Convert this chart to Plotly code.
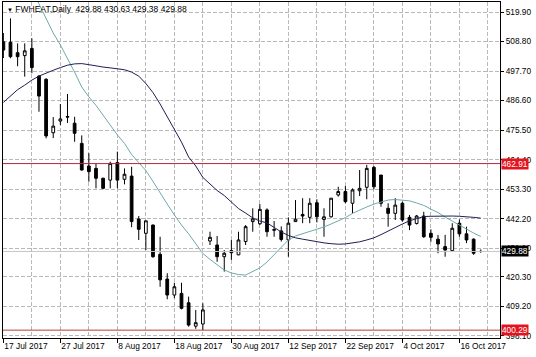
import plotly.graph_objects as go

# ---------------- data ----------------
dates = [
    "2017-07-17", "2017-07-18", "2017-07-19", "2017-07-20", "2017-07-21",
    "2017-07-24", "2017-07-25", "2017-07-26", "2017-07-27", "2017-07-28", "2017-07-31",
    "2017-08-01", "2017-08-02", "2017-08-03", "2017-08-04", "2017-08-07",
    "2017-08-08", "2017-08-09", "2017-08-10", "2017-08-11", "2017-08-14",
    "2017-08-15", "2017-08-16", "2017-08-17", "2017-08-18", "2017-08-21",
    "2017-08-22", "2017-08-23", "2017-08-24", "2017-08-25", "2017-08-28",
    "2017-08-29", "2017-08-30", "2017-08-31",
    "2017-09-01", "2017-09-05", "2017-09-06", "2017-09-07", "2017-09-08",
    "2017-09-11", "2017-09-12", "2017-09-13", "2017-09-14", "2017-09-15",
    "2017-09-18", "2017-09-19", "2017-09-20", "2017-09-21", "2017-09-22",
    "2017-09-25", "2017-09-26", "2017-09-27", "2017-09-28", "2017-09-29",
    "2017-10-02", "2017-10-03", "2017-10-04", "2017-10-05", "2017-10-06",
    "2017-10-09", "2017-10-10", "2017-10-11", "2017-10-12", "2017-10-13",
    "2017-10-16", "2017-10-17", "2017-10-18", "2017-10-19",
]

opens = [508.7, 508.5, 504.6, 503.5, 506.2, 495.8, 494.6, 474.5, 478.9, 480.6,
         478.1, 470.5, 462.0, 461.1, 457.4, 456.7, 463.3, 457.0, 458.2, 442.1,
         436.7, 439.8, 428.8, 419.5, 413.5, 414.1, 410.6, 401.8, 402.6, 433.8,
         432.3, 427.9, 430.2, 428.6, 433.6, 441.1, 440.3, 445.5, 438.1, 437.6,
         434.2, 441.1, 443.8, 442.7, 448.2, 441.9, 442.9, 451.1, 452.4, 448.0,
         452.7, 454.0, 461.5, 458.6, 446.1, 444.2, 448.0, 442.7, 440.4, 443.2,
         436.7, 434.5, 431.7, 430.2, 440.5, 436.5, 434.5, 429.88]
highs = [512.0, 517.5, 508.1, 508.1, 510.0, 496.2, 495.0, 480.4, 485.3, 489.1,
         480.5, 473.5, 466.8, 463.0, 457.6, 463.6, 467.4, 461.1, 461.7, 443.2,
         441.4, 440.0, 435.4, 421.7, 418.1, 418.1, 412.9, 407.9, 410.4, 437.3,
         435.7, 430.4, 434.2, 437.3, 439.8, 446.1, 447.7, 446.1, 441.3, 439.3,
         442.7, 449.2, 449.9, 449.9, 449.5, 446.1, 449.9, 454.2, 454.5, 453.6,
         460.5, 462.4, 462.0, 458.6, 448.0, 449.9, 448.6, 443.6, 443.6, 444.8,
         438.2, 436.1, 436.1, 440.5, 441.9, 439.2, 434.8, 430.63]
lows = [502.6, 502.5, 499.5, 495.6, 496.9, 482.4, 472.4, 472.5, 477.4, 478.2,
        471.1, 460.3, 456.1, 453.6, 453.3, 453.6, 453.6, 455.1, 439.0, 434.2,
        430.4, 427.5, 416.6, 411.9, 412.3, 408.1, 401.6, 400.8, 400.29, 432.3,
        426.0, 422.3, 426.7, 428.5, 432.3, 437.3, 439.8, 435.4, 435.4, 433.6,
        427.9, 441.0, 440.5, 440.5, 440.8, 435.4, 442.6, 450.5, 448.0, 444.2,
        450.7, 449.5, 453.2, 446.7, 439.2, 441.7, 441.1, 437.9, 440.0, 435.0,
        433.5, 429.2, 427.9, 430.0, 435.4, 433.0, 428.6, 429.38]
closes = [505.6, 503.1, 503.1, 505.3, 499.0, 488.3, 473.3, 477.0, 479.7, 480.4,
          474.3, 460.5, 459.9, 457.4, 453.6, 463.0, 456.7, 458.9, 441.1, 438.2,
          441.4, 427.9, 419.2, 413.5, 416.6, 408.5, 402.2, 403.1, 407.9, 435.2,
          427.9, 429.2, 429.4, 434.2, 439.2, 442.1, 445.7, 437.3, 437.9, 434.4,
          440.5, 442.0, 443.2, 448.0, 442.9, 442.9, 449.9, 452.4, 448.6, 453.0,
          453.6, 461.1, 454.2, 448.0, 444.2, 447.3, 441.7, 439.8, 443.2, 435.4,
          435.2, 432.7, 430.4, 438.6, 436.5, 434.2, 429.2, 429.88]

# fast moving average (teal)
ma_fast = [None, None, None, None, 528.4, 522.9, 517.5, 512.0, 507.5, 502.6,
           497.3, 491.7, 488.0, 484.8, 481.2, 477.2, 473.7, 470.5, 466.3, 463.3,
           460.3, 456.2, 452.2, 447.7, 443.6, 439.8, 436.5, 432.7, 429.1, 426.9,
           424.8, 422.9, 421.8, 421.2, 421.0, 422.2, 423.7, 425.9, 428.6, 431.6,
           434.2, 435.7, 436.5, 437.4, 438.3, 439.1, 440.2, 441.3, 442.6, 444.2,
           445.5, 446.6, 447.7, 448.5, 449.2, 449.4, 449.2, 448.9, 448.1, 447.2,
           445.8, 444.5, 442.8, 441.3, 439.7, 438.1, 436.8, 435.5]
# slow moving average (navy)
ma_slow = [485.9, 488.3, 490.7, 492.4, 494.3, 495.8, 497.0, 498.0, 499.0, 499.9,
           500.4, 500.5, 500.1, 499.6, 499.2, 498.9, 498.5, 498.2, 497.3, 495.8,
           493.0, 489.6, 485.3, 480.4, 475.5, 471.0, 465.4, 462.0, 457.7, 455.2,
           452.8, 450.9, 448.5, 446.0, 444.3, 442.5, 441.3, 440.6, 438.9, 437.2,
           435.9, 435.0, 434.5, 434.0, 433.6, 433.1, 432.8, 432.6, 432.7, 433.1,
           433.5, 434.2, 435.0, 436.2, 437.6, 438.7, 440.2, 441.4, 442.3, 443.0,
           443.1, 443.2, 443.2, 443.2, 443.1, 443.0, 442.7, 442.4]

x_labels = ["17 Jul 2017", "27 Jul 2017", "8 Aug 2017", "18 Aug 2017", "30 Aug 2017",
            "12 Sep 2017", "22 Sep 2017", "4 Oct 2017", "16 Oct 2017"]
x_label_dates = ["2017-07-17", "2017-07-27", "2017-08-08", "2017-08-18", "2017-08-30",
                 "2017-09-12", "2017-09-22", "2017-10-04", "2017-10-16"]
y_ticks = [519.90, 508.80, 497.70, 486.60, 475.50, 464.40, 453.30, 442.20,
           431.10, 420.30, 409.20, 398.10]

level_high = 462.91
level_low = 400.29
bid_price = 429.88
symbol = "FWHEAT,Daily"
last_ohlc = [429.88, 430.63, 429.38, 429.88]

# ---------------- figure ----------------
idx = list(range(len(dates)))
tick_idx = [dates.index(d) for d in x_label_dates]

FONT = "Liberation Sans, Arial, sans-serif"
GRID = "#b8b8b8"

fig = go.Figure()

fig.add_trace(go.Candlestick(
    x=idx, open=opens, high=highs, low=lows, close=closes,
    increasing=dict(line=dict(color="black", width=1), fillcolor="white"),
    decreasing=dict(line=dict(color="black", width=1), fillcolor="black"),
    whiskerwidth=0, showlegend=False, hoverinfo="skip",
))
fig.add_trace(go.Scatter(x=idx, y=ma_fast, mode="lines",
                         line=dict(color="#6fa9ab", width=1), showlegend=False))
fig.add_trace(go.Scatter(x=idx, y=ma_slow, mode="lines",
                         line=dict(color="#1e1e55", width=1), showlegend=False))

fig.add_hline(y=bid_price, line=dict(color="#c4c4c4", width=1))
fig.add_hline(y=level_high, line=dict(color="#b02a3a", width=1))
fig.add_hline(y=level_low, line=dict(color="#b04040", width=1))

fig.update_layout(
    width=536, height=357,
    margin=dict(l=3, r=36, t=2, b=19),
    paper_bgcolor="white", plot_bgcolor="white",
    font=dict(family=FONT, size=8.3, color="black"),
    boxgap=0.45,
    showlegend=False,
    xaxis=dict(
        range=[-0.05, 69.7],
        rangeslider=dict(visible=False),
        tickmode="array", tickvals=tick_idx, ticktext=x_labels,
        ticks="outside", ticklen=4, tickcolor="black",
        ticklabelposition="outside right",
        tickfont=dict(family=FONT, size=8.4),
        showgrid=True, gridcolor=GRID, griddash="4px,2px", gridwidth=1,
        minor=dict(tickmode="linear", tick0=0, dtick=4, showgrid=True,
                   gridcolor=GRID, griddash="4px,2px", gridwidth=1, ticks=""),
        showline=True, linecolor="black", linewidth=1, mirror=True,
        zeroline=False,
    ),
    yaxis=dict(
        side="right",
        range=[397.34, 523.66],
        tickmode="array", tickvals=y_ticks,
        ticktext=[f"{v:.2f}" for v in y_ticks],
        ticks="outside", ticklen=3, tickcolor="black",
        tickfont=dict(family=FONT, size=8.3),
        showgrid=True, gridcolor=GRID, griddash="4px,2px", gridwidth=1,
        showline=True, linecolor="black", linewidth=1, mirror=True,
        zeroline=False,
    ),
)

header = ('<span style="font-size:6px">▼</span> ' + symbol + "  "
          + " ".join(f"{v:.2f}" for v in last_ohlc))
annotations = [
    dict(xref="paper", yref="paper", x=0, y=1, xanchor="left", yanchor="top",
         xshift=2, yshift=0, text=header, showarrow=False,
         font=dict(family=FONT, size=8.5, color="black")),
]
for val, bg in [(level_high, "#e4141e"), (bid_price, "#000000"), (level_low, "#e4141e")]:
    annotations.append(dict(
        xref="paper", yref="y", x=1, y=val, xanchor="left", yanchor="middle",
        xshift=1, text=f"{val:.2f}", showarrow=False, bgcolor=bg, borderpad=0,
        font=dict(family=FONT, size=8.3, color="white"),
    ))
fig.update_layout(annotations=annotations)

fig.write_html("out.html", config={"displayModeBar": False},
               post_script="document.body.style.margin='0';document.body.style.padding='0';")
